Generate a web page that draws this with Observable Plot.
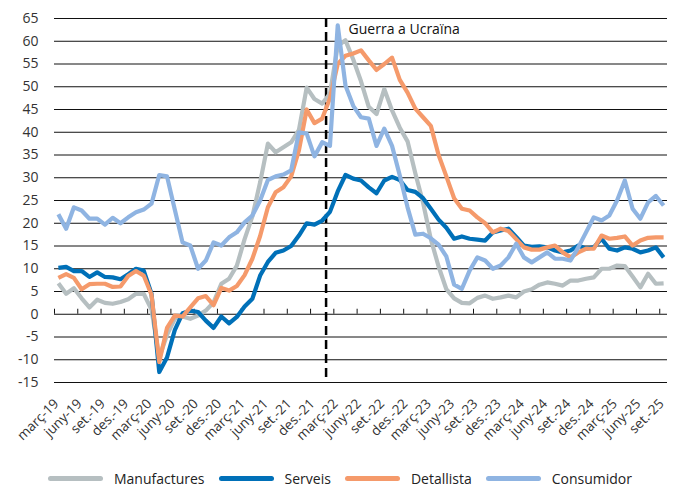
<!DOCTYPE html>
<html><head><meta charset="utf-8">
<script src="https://cdn.jsdelivr.net/npm/d3@7"></script>
<script src="https://cdn.jsdelivr.net/npm/@observablehq/plot@0.6"></script>
<style>
body{margin:0;background:#fff;font-family:"Open Sans",sans-serif;}
#chart{width:680px;}
.legend{display:flex;justify-content:center;align-items:center;gap:14px;height:24px;margin-top:2px;font-size:14px;color:#222;}
.item{display:flex;align-items:center;}
.sw{display:inline-block;width:55px;height:5px;border-radius:3px;margin-right:11px;}
</style></head><body><div id="chart"></div>
<script>
// Monthly index 0 = març 2019 ... 78 = setembre 2025
const nMonths = 79;
const tickLabels = ["març-19","juny-19","set.-19","des.-19","març-20","juny-20","set.-20","des.-20","març-21","juny-21","set.-21","des.-21","març-22","juny-22","set.-22","des.-22","març-23","juny-23","set.-23","des.-23","març-24","juny-24","set.-24","des.-24","març-25","juny-25","set.-25"];
const yTicks = [-15,-10,-5,0,5,10,15,20,25,30,35,40,45,50,55,60,65];
const seriesNames = ["Manufactures","Serveis","Detallista","Consumidor"];
const seriesColors = ["#b6bfc1","#0070b8","#f59a6b","#8fb4e2"];
const warIndex = 35; // boundary between gener and febrer 2022
const annotation = "Guerra a Ucraïna";

const manufactures = [6.8,4.5,5.7,3.5,1.5,3.2,2.5,2.3,2.7,3.3,4.5,4.5,1,-9.5,-4.5,-1,-0.5,-1,-0.3,0.8,2.6,6.7,7.8,10.7,16.5,21.5,29,37.5,35.6,36.7,37.8,40.5,49.8,47.3,46.3,48.5,59,60.2,56,51.2,45.6,44,49.5,44.8,41,38,31,24.5,16.5,10.5,5.5,3.5,2.5,2.4,3.6,4.1,3.4,3.7,4.1,3.7,5,5.5,6.5,7,6.7,6.3,7.4,7.4,7.8,8.1,10,10,10.7,10.6,8.3,5.9,8.9,6.7,6.8];
const serveis = [10.2,10.4,9.5,9.5,8.2,9.2,8.2,8.1,7.7,8.8,10,9.6,4.5,-12.7,-9.5,-3.5,0.2,0.8,0.5,-1.4,-3,-0.5,-2,-0.6,1.7,3.4,8.5,11.5,13.5,14,15,17.3,20,19.7,20.6,22.5,27,30.6,29.8,29.4,27.9,26.6,29.4,30.2,29.5,27.3,26.9,25.5,23.2,20.8,19,16.6,17.1,16.6,16.4,16.2,18,18.4,18.8,17,15.1,14.8,14.9,14.7,14,13.6,14,15.1,14.4,14.7,16.6,14.4,14,14.7,14.4,13.6,14,14.7,12.5];
const detallista = [8,8.8,8,5.5,6.6,6.7,6.7,6,6.1,8.4,9.5,8.5,4.3,-10.5,-3,-0.3,-0.5,1.5,3.5,4,2,5.8,5.2,6.2,8.6,12.2,17.2,23.5,26.8,27.9,30.3,36,45,42,43,47.5,55,56.8,57.3,58,55.8,53.7,55,56.4,51.5,48.7,45.2,43.3,41.4,35,30.3,25.5,23.2,22.8,21.3,20,18,18.8,18.3,16.5,14.7,14.2,14.2,14.7,15.1,13.6,12.5,13.6,14.4,14.4,17.3,16.6,16.8,17.1,15.1,16.2,16.8,16.9,16.9];
const consumidor = [22,18.8,23.5,22.8,21,21,19.7,21.2,20,21.3,22.4,23,24.3,30.6,30.3,23,15.8,15.1,10,11.8,15.8,15.1,16.9,18,20.2,21.7,25,29.5,30.3,30.7,31.6,40,39.7,34.7,37.8,37,63.5,50.3,45.8,43.3,43,37,40.8,37,30.5,23.5,17.5,17.7,16.7,15.3,12.7,6.5,5.6,9.6,12.5,11.8,10,10.7,12.5,15.5,12.5,11.4,12.5,13.6,12.2,12.2,11.8,14.7,18,21.3,20.6,21.7,25,29.4,23.2,21,24.6,26,23.9];

const seriesValues = [manufactures, serveis, detallista, consumidor];
const rowsFor = (vals, name) => vals.map((v, i) => ({i: i + 0.5, v, series: name}));
const tickIdx = tickLabels.map((d, k) => k * 3);

const plot = Plot.plot({
  width: 680, height: 464,
  marginLeft: 54, marginRight: 13, marginTop: 18, marginBottom: 82,
  style: {fontFamily: "Open Sans", fontSize: "14px", color: "#333", background: "#fff"},
  x: {domain: [0, nMonths], axis: null},
  y: {domain: [-15, 65], ticks: yTicks, tickSize: 0, tickPadding: 16, label: null, tickFormat: d => String(d)},
  color: {domain: seriesNames, range: seriesColors},
  marks: [
    Plot.ruleY(yTicks, {stroke: "#111", strokeWidth: 1}),
    Plot.ruleX(tickIdx, {x: d => d, y1: 0, y2: 1.1, stroke: "#111", strokeWidth: 1}),
    Plot.ruleX([warIndex], {stroke: "#000", strokeWidth: 2.5, strokeDasharray: "9,5"}),
    ...seriesValues.map((vals, s) => Plot.line(rowsFor(vals, seriesNames[s]), {
      x: "i", y: "v", stroke: "series", strokeWidth: 4.2, strokeLinejoin: "round", strokeLinecap: "butt"
    })),
    Plot.text(tickLabels, {x: (d, k) => k * 3 + 0.5, frameAnchor: "bottom", rotate: -45, textAnchor: "end", dy: 22, dx: 1, fontSize: 13.5, fill: "#333"}),
    Plot.text([annotation], {x: warIndex, y: 65, dx: 22.5, dy: 11.5, textAnchor: "start", fontSize: 14, fill: "#111"})
  ]
});
document.getElementById("chart").appendChild(plot);

const legend = document.createElement("div");
legend.className = "legend";
seriesNames.forEach((n, k) => {
  const it = document.createElement("span");
  it.className = "item";
  const sw = document.createElement("span");
  sw.className = "sw";
  sw.style.background = seriesColors[k];
  it.appendChild(sw);
  it.appendChild(document.createTextNode(n));
  legend.appendChild(it);
});
document.getElementById("chart").appendChild(legend);
</script>
</body></html>
